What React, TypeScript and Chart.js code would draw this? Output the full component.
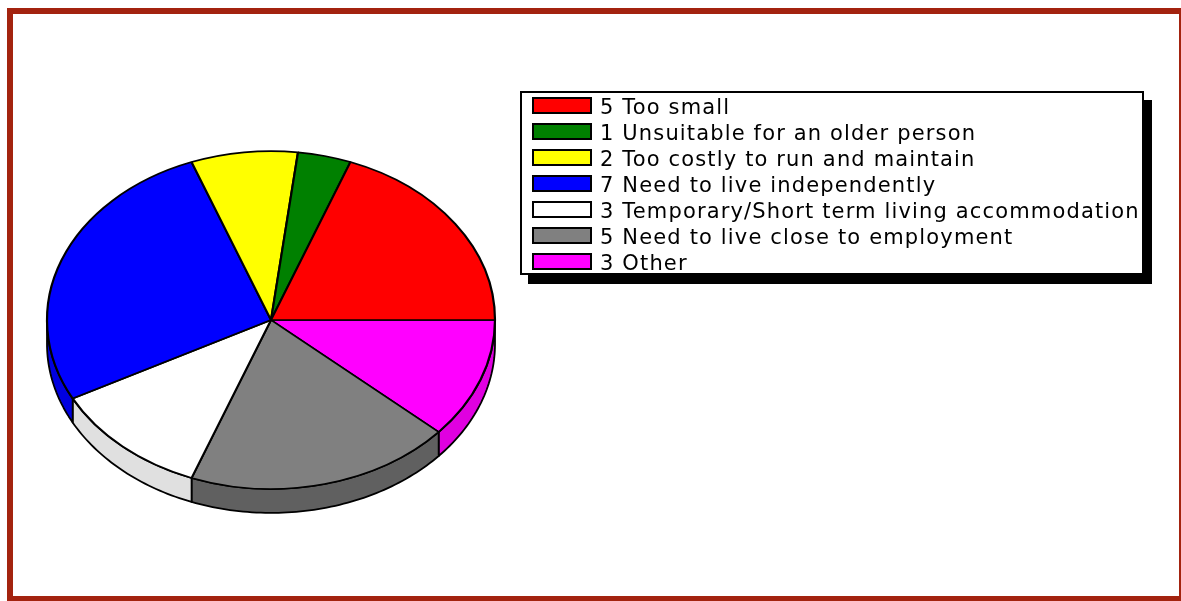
import React, { useEffect, useRef } from "react";
import { Chart, registerables } from "chart.js";

Chart.register(...registerables);

// ---- data (legend order, counter-clockwise from 3 o'clock) ----
const categories = [
  "Too small",
  "Unsuitable for an older person",
  "Too costly to run and maintain",
  "Need to live independently",
  "Temporary/Short term living accommodation",
  "Need to live close to employment",
  "Other",
];
const counts = [5, 1, 2, 7, 3, 5, 3];
const faceColors = ["#ff0000", "#008000", "#ffff00", "#0000ff", "#ffffff", "#808080", "#ff00ff"];
const sideColors = ["#c00000", "#006000", "#c0c000", "#0000e0", "#e0e0e0", "#606060", "#e000e0"];

// ---- layout / style constants ----
const W = 1181;
const H = 601;
const CX = 271;
const CY = 320;
const R = 224;
const TILT = 0.754;
const DEPTH = 24;
const BW = 2.2;

const pie3d = {
  id: "pie3d",
  beforeDatasetsDraw(chart: any) {
    const ctx: CanvasRenderingContext2D = chart.ctx;
    const meta = chart.getDatasetMeta(0);
    const arcs = meta.data;
    if (!arcs.length) return;
    const cx = arcs[0].x;
    const cy = arcs[0].y;
    const r = arcs[0].outerRadius;
    const ry = r * TILT;
    const sides: string[] = chart.data.datasets[0].sideColors;
    ctx.save();
    ctx.lineWidth = 1.8;
    ctx.strokeStyle = "#000";
    ctx.lineJoin = "round";
    arcs.forEach((arc: any, i: number) => {
      const s = arc.startAngle;
      const e = arc.endAngle;
      for (const k of [-2 * Math.PI, 0, 2 * Math.PI]) {
        const a = Math.max(s, k);
        const b = Math.min(e, k + Math.PI);
        if (b - a <= 1e-6) continue;
        const steps = Math.max(2, Math.ceil((b - a) / 0.02));
        ctx.beginPath();
        for (let j = 0; j <= steps; j++) {
          const t = a + ((b - a) * j) / steps;
          const px = cx + r * Math.cos(t);
          const py = cy + ry * Math.sin(t);
          if (j === 0) ctx.moveTo(px, py);
          else ctx.lineTo(px, py);
        }
        for (let j = steps; j >= 0; j--) {
          const t = a + ((b - a) * j) / steps;
          ctx.lineTo(cx + r * Math.cos(t), cy + ry * Math.sin(t) + DEPTH);
        }
        ctx.closePath();
        ctx.fillStyle = sides[i];
        ctx.fill();
        ctx.stroke();
      }
    });
    ctx.restore();
    ctx.save();
    ctx.translate(cx, cy);
    ctx.scale(1, TILT);
    ctx.translate(-cx, -cy);
  },
  afterDatasetsDraw(chart: any) {
    chart.ctx.restore();
  },
};

export default function App() {
  const ref = useRef<HTMLCanvasElement | null>(null);

  useEffect(() => {
    if (!ref.current) return;
    // chart draws clockwise, so feed the slices reversed to get counter-clockwise order
    const labels = [...categories].reverse();
    const data = [...counts].reverse();
    const bg = [...faceColors].reverse();
    const sc = [...sideColors].reverse();
    const chart = new Chart(ref.current, {
      type: "pie",
      data: {
        labels,
        datasets: [
          {
            data,
            backgroundColor: bg,
            borderColor: "#000000",
            borderWidth: BW,
            clip: false,
            sideColors: sc,
          } as any,
        ],
      },
      options: {
        responsive: false,
        animation: false,
        events: [],
        rotation: 90,
        layout: {
          padding: {
            left: CX - R - BW / 2,
            right: W - (CX + R + BW / 2),
            top: CY - R - BW / 2,
            bottom: H - (CY + R + BW / 2),
          },
        },
        plugins: {
          legend: { display: false },
          tooltip: { enabled: false },
          title: { display: false },
        },
      },
      plugins: [pie3d],
    });
    return () => chart.destroy();
  }, []);

  return (
    <div style={{ position: "fixed", left: 0, top: 0, width: W, height: H, overflow: "hidden", background: "#fff" }}>
      <div
        style={{
          position: "absolute",
          left: 7,
          top: 8,
          width: 1178,
          height: 594,
          border: "6px solid #a3230f",
          boxSizing: "border-box",
        }}
      />
      <canvas ref={ref} width={W} height={H} style={{ position: "absolute", left: 0, top: 0, width: W, height: H }} />
      <div
        style={{
          position: "absolute",
          left: 520,
          top: 91,
          width: 624,
          height: 184,
          border: "2px solid #000",
          boxSizing: "border-box",
          background: "#fff",
          boxShadow: "8px 9px 0 #000",
          fontFamily: "'DejaVu Sans', Verdana, sans-serif",
          fontSize: 21,
          letterSpacing: "1.15px",
          color: "#000",
        }}
      >
        {categories.map((c, i) => (
          <div key={c} style={{ position: "absolute", left: 0, top: 1 + i * 26, height: 26, width: 620 }}>
            <div
              style={{
                position: "absolute",
                left: 10,
                top: 3,
                width: 60,
                height: 17,
                boxSizing: "border-box",
                border: "2px solid #000",
                background: faceColors[i],
              }}
            />
            <div style={{ position: "absolute", left: 78, top: 0, lineHeight: "26px", whiteSpace: "nowrap" }}>
              {counts[i]} {c}
            </div>
          </div>
        ))}
      </div>
    </div>
  );
}
